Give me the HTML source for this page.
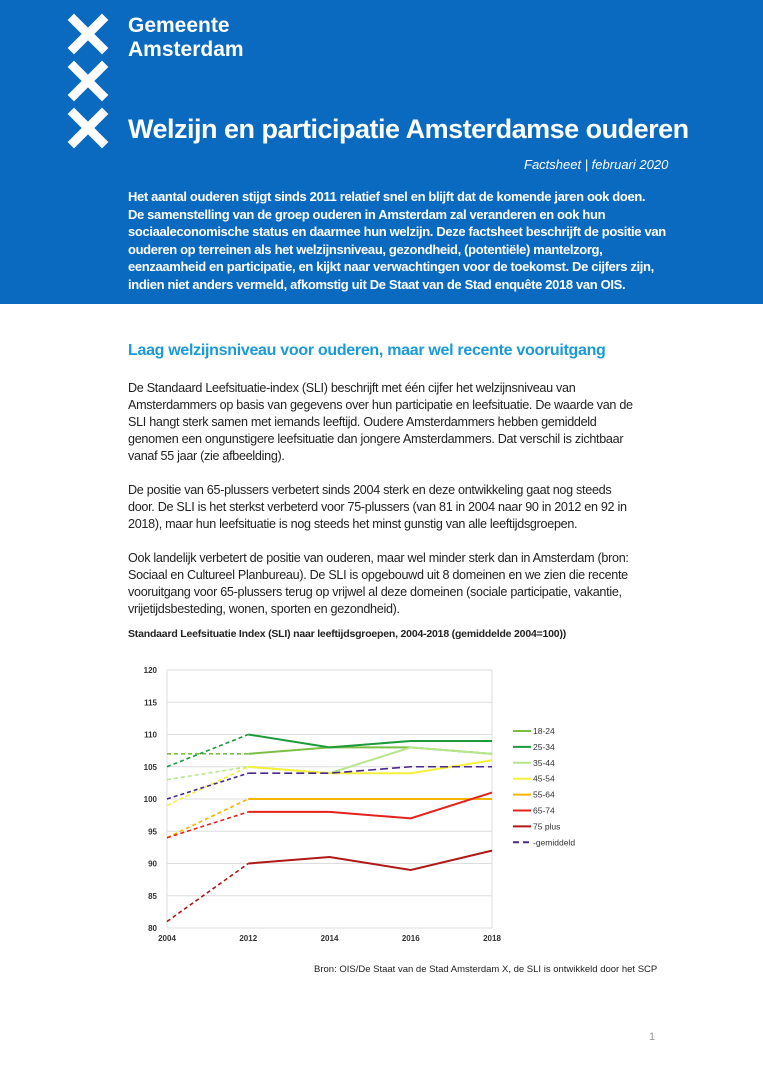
<!DOCTYPE html>
<html><head><meta charset="utf-8">
<style>
body{margin:0;width:763px;height:1080px;position:relative;background:#fff;font-family:"Liberation Sans",sans-serif;overflow:hidden}
.hdr{position:absolute;left:0;top:0;width:763px;height:304px;background:#0a6ac0}
.l{position:absolute;white-space:nowrap}
.w{color:#fff}
.hb{font-size:13px;font-weight:bold;letter-spacing:-0.35px;color:#fff}
.bt{font-size:12.6px;letter-spacing:-0.3px;color:#222}
</style></head><body>
<div class="hdr">
<svg width="60" height="160" style="position:absolute;left:66px;top:10px">
<g stroke="#fff" stroke-width="9" stroke-linecap="square">
<path d="M8 10 L36 38 M36 10 L8 38"/><path d="M8 57 L36 85 M36 57 L8 85"/><path d="M8 104 L36 132 M36 104 L8 132"/></g></svg>
<div class="l w" style="left:128px;top:14px;font-size:21px;font-weight:bold;line-height:24px">Gemeente<br>Amsterdam</div>
<div class="l w" style="left:128px;top:114px;font-size:27px;font-weight:bold;letter-spacing:-0.5px">Welzijn en participatie Amsterdamse ouderen</div>
<div class="l w" style="left:524px;top:157px;font-size:13px;font-style:italic">Factsheet | februari 2020</div>
<div>
<div class="l hb" style="left:128px;top:189px">Het aantal ouderen stijgt sinds 2011 relatief snel en blijft dat de komende jaren ook doen.</div>
<div class="l hb" style="left:128px;top:206.5px">De samenstelling van de groep ouderen in Amsterdam zal veranderen en ook hun</div>
<div class="l hb" style="left:128px;top:224px">sociaaleconomische status en daarmee hun welzijn. Deze factsheet beschrijft de positie van</div>
<div class="l hb" style="left:128px;top:241.5px">ouderen op terreinen als het welzijnsniveau, gezondheid, (potentiële) mantelzorg,</div>
<div class="l hb" style="left:128px;top:259px">eenzaamheid en participatie, en kijkt naar verwachtingen voor de toekomst. De cijfers zijn,</div>
<div class="l hb" style="left:128px;top:276.5px">indien niet anders vermeld, afkomstig uit De Staat van de Stad enquête 2018 van OIS.</div>
</div>
</div>
<div class="l" style="left:128px;top:342px;font-size:16px;font-weight:bold;color:#1a9ad6;letter-spacing:-0.3px">Laag welzijnsniveau voor ouderen, maar wel recente vooruitgang</div>
<div>
<div class="l bt" style="left:128px;top:381px">De Standaard Leefsituatie-index (SLI) beschrijft met één cijfer het welzijnsniveau van</div>
<div class="l bt" style="left:128px;top:398px">Amsterdammers op basis van gegevens over hun participatie en leefsituatie. De waarde van de</div>
<div class="l bt" style="left:128px;top:415px">SLI hangt sterk samen met iemands leeftijd. Oudere Amsterdammers hebben gemiddeld</div>
<div class="l bt" style="left:128px;top:432px">genomen een ongunstigere leefsituatie dan jongere Amsterdammers. Dat verschil is zichtbaar</div>
<div class="l bt" style="left:128px;top:449px">vanaf 55 jaar (zie afbeelding).</div>
<div class="l bt" style="left:128px;top:483px">De positie van 65-plussers verbetert sinds 2004 sterk en deze ontwikkeling gaat nog steeds</div>
<div class="l bt" style="left:128px;top:500px">door. De SLI is het sterkst verbeterd voor 75-plussers (van 81 in 2004 naar 90 in 2012 en 92 in</div>
<div class="l bt" style="left:128px;top:517px">2018), maar hun leefsituatie is nog steeds het minst gunstig van alle leeftijdsgroepen.</div>
<div class="l bt" style="left:128px;top:551px">Ook landelijk verbetert de positie van ouderen, maar wel minder sterk dan in Amsterdam (bron:</div>
<div class="l bt" style="left:128px;top:568px">Sociaal en Cultureel Planbureau). De SLI is opgebouwd uit 8 domeinen en we zien die recente</div>
<div class="l bt" style="left:128px;top:585px">vooruitgang voor 65-plussers terug op vrijwel al deze domeinen (sociale participatie, vakantie,</div>
<div class="l bt" style="left:128px;top:602px">vrijetijdsbesteding, wonen, sporten en gezondheid).</div>
</div>
<div class="l" style="left:128px;top:628px;font-size:10.5px;font-weight:bold;color:#222;letter-spacing:-0.2px">Standaard Leefsituatie Index (SLI) naar leeftijdsgroepen, 2004-2018 (gemiddelde 2004=100))</div>
<svg id="chart" width="763" height="330" style="position:absolute;left:0;top:650px"></svg>
<div class="l" style="left:314px;top:964px;font-size:9.5px;color:#222">Bron: OIS/De Staat van de Stad Amsterdam X, de SLI is ontwikkeld door het SCP</div>
<div class="l" style="left:649px;top:1031px;font-size:11px;color:#999">1</div>
<script>
const categories=["2004","2012","2014","2016","2018"];
const yTicks=[80,85,90,95,100,105,110,115,120];
const seriesNames=["18-24","25-34","35-44","45-54","55-64","65-74","75 plus","gemiddeld"];
const s1824=[107,107,108,108,107];
const s2534=[105,110,108,109,109];
const s3544=[103,105,104,108,107];
const s4554=[99,105,104,104,106];
const s5564=[94,100,100,100,100];
const s6574=[94,98,98,97,101];
const s75=[81,90,91,89,92];
const sGem=[100,104,104,105,105];
const allSeries=[s1824,s2534,s3544,s4554,s5564,s6574,s75,sGem];
const colors=["#7cbf45","#1e9a3c","#b8e68c","#f5f03a","#f5b400","#e3231b","#b01818","#4b2a8c"];
const ns="http://www.w3.org/2000/svg";
const svg=document.getElementById('chart');
const X0=167,X1=492,Y0=278,Y1=20;
function x(i){return X0+(X1-X0)*i/(categories.length-1);}
function y(v){return Y0-(v-80)/(120-80)*(Y0-Y1);}
function mk(t,a){const e=document.createElementNS(ns,t);for(const k in a)e.setAttribute(k,a[k]);svg.appendChild(e);return e;}
yTicks.forEach(v=>{
 const g=mk('line',{x1:X0,x2:X1,y1:y(v),y2:y(v),stroke:'#dddddd','stroke-width':1});
 
 
 const t=mk('text',{x:X0-10,y:y(v)+3,'text-anchor':'end','font-size':8,'font-weight':'bold',fill:'#333','font-family':'Liberation Sans'});
 t.textContent=v;
 
 
});
const ax=mk('line',{x1:X0,x2:X0,y1:Y1,y2:Y0,stroke:'#dddddd'});


const ax2=mk('line',{x1:X1,x2:X1,y1:Y1,y2:Y0,stroke:'#dddddd'});


categories.forEach((c,i)=>{
 const t=mk('text',{x:x(i),y:Y0+13,'text-anchor':'middle','font-size':8,'font-weight':'bold',fill:'#333','font-family':'Liberation Sans'});
 t.textContent=c;
 
 
});
allSeries.forEach((s,k)=>{
 const isGem=k===7;
 const d=mk('line',{x1:x(0),y1:y(s[0]),x2:x(1),y2:y(s[1]),stroke:colors[k],'stroke-width':1.6,'stroke-dasharray':'4,3'});
 
 
 let pts='';for(let i=1;i<s.length;i++)pts+=x(i)+','+y(s[i])+' ';
 const p=mk('polyline',{points:pts,fill:'none',stroke:colors[k],'stroke-width':isGem?1.6:2,'stroke-dasharray':isGem?'8,4':'none'});
 
 
 const ly=81+k*15.9;
 const ll=mk('line',{x1:513,x2:531,y1:ly,y2:ly,stroke:colors[k],'stroke-width':2,'stroke-dasharray':isGem?'6,4':'none'});
 
 
 const lt=mk('text',{x:533,y:ly+3,'font-size':8.5,fill:'#333','font-family':'Liberation Sans'});
 lt.textContent=isGem?'-gemiddeld':seriesNames[k];
 
 
});
</script>
</body></html>
